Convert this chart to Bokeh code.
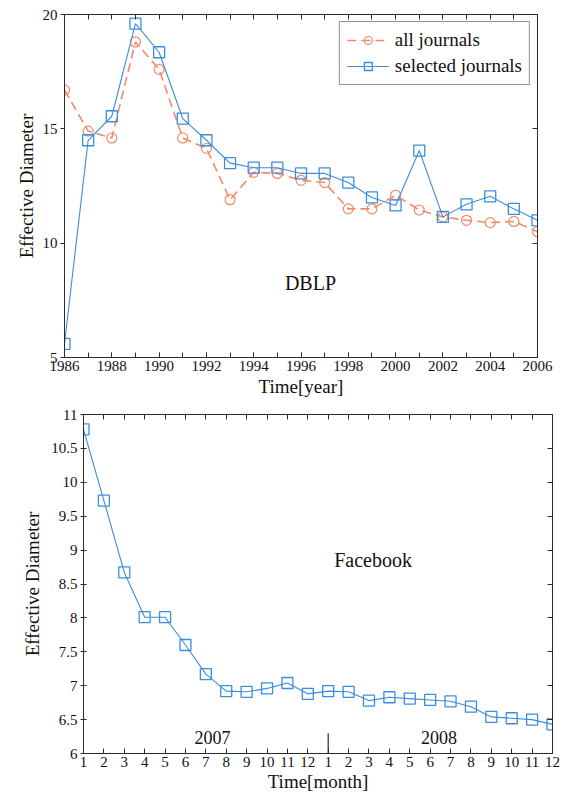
from bokeh.plotting import figure
from bokeh.models import Range1d, LinearAxis, FixedTicker, Label
from bokeh.embed import file_html
from bokeh.resources import INLINE

# ---------------- data ----------------
years = list(range(1986, 2007))
all_journals = [16.7, 14.9, 14.6, 18.8, 17.6, 14.6, 14.15, 11.9, 13.1, 13.05, 12.75,
                12.65, 11.5, 11.5, 12.1, 11.45, 11.15, 11.0, 10.9, 10.95, 10.5]
selected_journals = [5.6, 14.5, 15.55, 19.6, 18.35, 15.45, 14.5, 13.5, 13.3, 13.3, 13.05,
                     13.05, 12.65, 12.0, 11.65, 14.05, 11.15, 11.7, 12.05, 11.5, 11.0]

month_index = list(range(1, 25))
month_labels = [str(m) for m in range(1, 13)] * 2
facebook = [10.78, 9.73, 8.67, 8.01, 8.01, 7.6, 7.17, 6.92, 6.91, 6.96, 7.04, 6.88,
            6.92, 6.91, 6.78, 6.83, 6.81, 6.79, 6.77, 6.69, 6.54, 6.52, 6.50, 6.43]
year_boundary = 13
year_names = ["2007", "2008"]
year_label_x = [7.33, 18.43]

top_yticks = [5, 10, 15, 20]
bot_yticks = [6, 6.5, 7, 7.5, 8, 8.5, 9, 9.5, 10, 10.5, 11]

FONT = "Liberation Serif"
AX = "#2b2b2b"
ORANGE = "#F28A68"
BLUE = "#3B8DDD"


def style_axis(ax, tick_in=5, tick_out=0, labels=True, size="15px"):
    ax.axis_line_color = AX
    ax.major_tick_line_color = AX
    ax.minor_tick_line_color = AX
    ax.major_tick_in = tick_in
    ax.major_tick_out = tick_out
    ax.minor_tick_in = tick_in
    ax.minor_tick_out = tick_out
    ax.major_label_text_font = FONT
    ax.major_label_text_color = "#111111"
    ax.axis_label_text_font = FONT
    ax.axis_label_text_font_style = "normal"
    ax.axis_label_text_font_size = "19px"
    ax.axis_label_text_color = "#111111"
    ax.major_label_text_font_size = size
    if not labels:
        ax.major_label_standoff = 0
        ax.major_label_overrides = {t: "" for t in ax.ticker.ticks}


# ---------------- top plot ----------------
p1 = figure(width=564, height=400, output_backend="svg", toolbar_location=None,
            x_range=Range1d(1986, 2006), y_range=Range1d(5, 20),
            min_border_left=64, min_border_right=27, min_border_top=14, min_border_bottom=43)
p1.grid.visible = False
p1.outline_line_color = AX

p1.line(years, all_journals, color=ORANGE, line_width=1.6, line_dash="9 5",
        legend_label="all journals")
p1.scatter(years, all_journals, marker="circle", size=10, line_color=ORANGE,
           fill_color=None, line_width=1.2, legend_label="all journals")
p1.line(years, selected_journals, color=BLUE, line_width=1.1,
        legend_label="selected journals")
p1.scatter(years, selected_journals, marker="square", size=11, line_color=BLUE,
           fill_color=None, line_width=1.3, legend_label="selected journals")

p1.xaxis.ticker = FixedTicker(ticks=years[::2], minor_ticks=years)
p1.yaxis.ticker = FixedTicker(ticks=top_yticks, minor_ticks=[])
p1.xaxis.axis_label = "Time[year]"
p1.yaxis.axis_label = "Effective Diameter"
style_axis(p1.xaxis[0], tick_in=5, tick_out=0)
style_axis(p1.yaxis[0], tick_in=0, tick_out=4)
p1.xaxis.major_label_standoff = 3
p1.xaxis.axis_label_standoff = 2
p1.yaxis.major_label_standoff = 3
p1.yaxis.axis_label_standoff = 3

top1 = LinearAxis(ticker=FixedTicker(ticks=years, minor_ticks=[]))
style_axis(top1, tick_in=5, labels=False, size="1px")
p1.add_layout(top1, "above")
right1 = LinearAxis(ticker=FixedTicker(ticks=top_yticks, minor_ticks=[]))
style_axis(right1, tick_in=5, labels=False, size="1px")
p1.add_layout(right1, "right")

p1.add_layout(Label(x=1996.4, y=8.24, text="DBLP", text_font=FONT, text_font_size="20px",
                    text_color="#111111", text_align="center", text_baseline="middle"))

lg = p1.legend[0]
lg.location = "top_right"
lg.margin = 7
lg.border_line_color = "#222222"
lg.border_line_width = 1
lg.label_text_font = FONT
lg.label_text_font_size = "19px"
lg.label_text_color = "#111111"
lg.glyph_width = 42
lg.glyph_height = 20
lg.label_height = 20
lg.spacing = 4
lg.padding = 7
lg.label_standoff = 6
lg.background_fill_alpha = 1.0

# ---------------- bottom plot ----------------
p2 = figure(width=564, height=396, output_backend="svg", toolbar_location=None,
            x_range=Range1d(1, 24), y_range=Range1d(6, 11),
            min_border_left=83, min_border_right=12, min_border_top=14, min_border_bottom=43)
p2.grid.visible = False
p2.outline_line_color = AX

p2.line(month_index, facebook, color=BLUE, line_width=1.1)
p2.scatter(month_index, facebook, marker="square", size=11, line_color=BLUE,
           fill_color=None, line_width=1.3)

p2.xaxis.ticker = FixedTicker(ticks=month_index, minor_ticks=[])
p2.xaxis.major_label_overrides = {i: lab for i, lab in zip(month_index, month_labels)}
p2.yaxis.ticker = FixedTicker(ticks=bot_yticks, minor_ticks=[])
p2.yaxis.major_label_overrides = {t: f"{t:g}" for t in bot_yticks}
p2.xaxis.axis_label = "Time[month]"
p2.yaxis.axis_label = "Effective Diameter"
style_axis(p2.xaxis[0], tick_in=5, tick_out=0)
style_axis(p2.yaxis[0], tick_in=3, tick_out=3)
p2.xaxis.major_label_standoff = 3
p2.xaxis.axis_label_standoff = 1
p2.yaxis.major_label_standoff = 3
p2.yaxis.axis_label_standoff = 5

top2 = LinearAxis(ticker=FixedTicker(ticks=month_index, minor_ticks=[]))
style_axis(top2, tick_in=5, labels=False, size="1px")
p2.add_layout(top2, "above")
right2 = LinearAxis(ticker=FixedTicker(ticks=bot_yticks, minor_ticks=[]))
style_axis(right2, tick_in=5, labels=False, size="1px")
p2.add_layout(right2, "right")

p2.segment(x0=[year_boundary], y0=[6], x1=[year_boundary], y1=[6.3],
           line_color=AX, line_width=1.2)
for name, xx in zip(year_names, year_label_x):
    p2.add_layout(Label(x=xx, y=6.24, text=name, text_font=FONT, text_font_size="18px",
                        text_color="#111111", text_align="center", text_baseline="middle"))

p2.add_layout(Label(x=15.2, y=8.85, text="Facebook", text_font=FONT, text_font_size="20px",
                    text_color="#111111", text_align="center", text_baseline="middle"))

open("out.html", "w").write(file_html([p1, p2], INLINE))
